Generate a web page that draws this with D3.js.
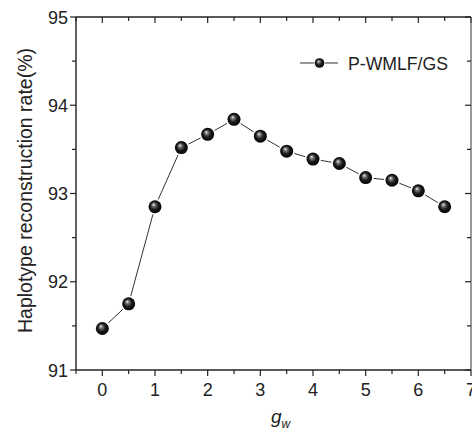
<!DOCTYPE html>
<html>
<head>
<meta charset="utf-8">
<script src="https://cdn.jsdelivr.net/npm/d3@7"></script>
<style>
  body { margin: 0; background: #fff; }
  text { font-family: "Liberation Sans", Arial, sans-serif; fill: #222; }
</style>
</head>
<body>
<svg id="chart"></svg>
<script>
// Haplotype reconstruction rate vs g_w

const gw = [0, 0.5, 1, 1.5, 2, 2.5, 3, 3.5, 4, 4.5, 5, 5.5, 6, 6.5];
const rate = [91.47, 91.75, 92.85, 93.52, 93.67, 93.84, 93.65, 93.48, 93.39, 93.34, 93.18, 93.15, 93.03, 92.85];
const xTicks = [0, 1, 2, 3, 4, 5, 6, 7];
const yTicks = [91, 92, 93, 94, 95];
const seriesName = "P-WMLF/GS";

const width = 472, height = 433;
const margin = {left: 76, right: 1, top: 17, bottom: 63};

const svg = d3.select("#chart")
    .attr("width", width)
    .attr("height", height);

const x = d3.scaleLinear().domain([-0.5, 7]).range([margin.left, width - margin.right]);
const y = d3.scaleLinear().domain([91, 95]).range([height - margin.bottom, margin.top]);

// sphere look for markers
const grad = svg.append("defs").append("radialGradient")
    .attr("id", "ball")
    .attr("cx", "50%").attr("cy", "50%").attr("r", "55%")
    .attr("fx", "38%").attr("fy", "32%");
grad.append("stop").attr("offset", "0%").attr("stop-color", "#f4f4f4");
grad.append("stop").attr("offset", "22%").attr("stop-color", "#7a7a7a");
grad.append("stop").attr("offset", "55%").attr("stop-color", "#1a1a1a");
grad.append("stop").attr("offset", "100%").attr("stop-color", "#000");

const minorX = d3.range(-0.5, 7.01, 0.5);
const minorY = d3.range(91, 95.01, 0.5);

// bottom axis: outward ticks
const axBottom = svg.append("g").attr("transform", `translate(0,${y.range()[0]})`);
axBottom.append("line").attr("x1", x.range()[0]).attr("x2", x.range()[1]).attr("stroke", "#222").attr("stroke-width", 1.4);
axBottom.selectAll(".t").data(minorX).enter().append("line")
    .attr("x1", d => x(d)).attr("x2", d => x(d))
    .attr("y1", 0).attr("y2", d => Number.isInteger(d) ? 6 : 4)
    .attr("stroke", "#222").attr("stroke-width", 1.2);
axBottom.selectAll(".lbl").data(xTicks).enter().append("text")
    .attr("x", d => x(d)).attr("y", 26)
    .attr("text-anchor", "middle").attr("font-size", 18)
    .text(d => d);

// top axis: inward ticks
const axTop = svg.append("g").attr("transform", `translate(0,${y.range()[1]})`);
axTop.append("line").attr("x1", x.range()[0]).attr("x2", x.range()[1]).attr("stroke", "#222").attr("stroke-width", 1.4);
axTop.selectAll(".t").data(minorX).enter().append("line")
    .attr("x1", d => x(d)).attr("x2", d => x(d))
    .attr("y1", 0).attr("y2", d => Number.isInteger(d) ? 6 : 4)
    .attr("stroke", "#222").attr("stroke-width", 1.2);

// left axis: outward ticks
const axLeft = svg.append("g").attr("transform", `translate(${x.range()[0]},0)`);
axLeft.append("line").attr("y1", y.range()[0]).attr("y2", y.range()[1]).attr("stroke", "#222").attr("stroke-width", 1.4);
axLeft.selectAll(".t").data(minorY).enter().append("line")
    .attr("y1", d => y(d)).attr("y2", d => y(d))
    .attr("x1", 0).attr("x2", d => Number.isInteger(d) ? -6 : -4)
    .attr("stroke", "#222").attr("stroke-width", 1.2);
axLeft.selectAll(".lbl").data(yTicks).enter().append("text")
    .attr("x", -8).attr("y", d => y(d) + 6.5)
    .attr("text-anchor", "end").attr("font-size", 18)
    .text(d => d);

// right axis: inward ticks
const axRight = svg.append("g").attr("transform", `translate(${x.range()[1]},0)`);
axRight.append("line").attr("y1", y.range()[0]).attr("y2", y.range()[1]).attr("stroke", "#555").attr("stroke-width", 1.2);
axRight.selectAll(".t").data(minorY).enter().append("line")
    .attr("y1", d => y(d)).attr("y2", d => y(d))
    .attr("x1", 0).attr("x2", d => Number.isInteger(d) ? -6 : -4)
    .attr("stroke", "#222").attr("stroke-width", 1.2);

// axis titles
const xt = svg.append("text")
    .attr("x", 271).attr("y", 423)
    .attr("font-size", 19).attr("font-style", "italic");
xt.append("tspan").text("g");
xt.append("tspan").attr("font-size", 12).attr("dy", 5).text("w");

svg.append("text")
    .attr("transform", `translate(32,190.5) rotate(-90)`)
    .attr("text-anchor", "middle").attr("font-size", 20)
    .attr("textLength", 285).attr("lengthAdjust", "spacingAndGlyphs")
    .text("Haplotype reconstruction rate(%)");

// connecting line, broken a little around each marker
const pts = gw.map((d, i) => [x(d), y(rate[i])]);
const gap = 8;
const segs = d3.pairs(pts).map(([a, b]) => {
    const dx = b[0] - a[0], dy = b[1] - a[1], len = Math.hypot(dx, dy);
    const ux = dx / len, uy = dy / len;
    return [a[0] + ux * gap, a[1] + uy * gap, b[0] - ux * gap, b[1] - uy * gap];
});
svg.selectAll(".seg").data(segs).enter().append("line")
    .attr("x1", d => d[0]).attr("y1", d => d[1])
    .attr("x2", d => d[2]).attr("y2", d => d[3])
    .attr("stroke", "#333").attr("stroke-width", 1);

svg.selectAll(".pt").data(gw).enter().append("circle")
    .attr("cx", d => x(d))
    .attr("cy", (d, i) => y(rate[i]))
    .attr("r", 6.5)
    .attr("fill", "url(#ball)");

// legend
const lg = svg.append("g").attr("transform", `translate(300,63)`);
lg.append("line").attr("x1", 0).attr("x2", 14).attr("stroke", "#333");
lg.append("line").attr("x1", 25).attr("x2", 38).attr("stroke", "#333");
lg.append("circle").attr("cx", 19.5).attr("r", 4.8).attr("fill", "url(#ball)");
lg.append("text").attr("x", 48).attr("y", 6.5).attr("font-size", 19)
    .attr("textLength", 100).attr("lengthAdjust", "spacingAndGlyphs")
    .text(seriesName);
</script>
</body>
</html>
